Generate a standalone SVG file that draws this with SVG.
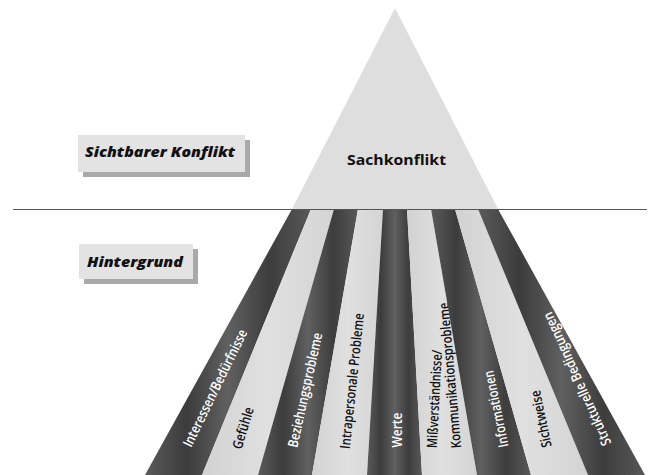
<svg xmlns="http://www.w3.org/2000/svg" width="652" height="475" viewBox="0 0 652 475">
<defs>
<style>
.lbl{font-family:"Open Sans","Noto Sans","Liberation Sans",sans-serif;font-size:14px;font-weight:600;text-anchor:middle}
.w{fill:#ffffff}
.b{fill:#111111}
.box{fill:#e3e3e3}
.shadow{fill:#a9a9a9}
.side{font-family:"Open Sans","Noto Sans","Liberation Sans",sans-serif;font-size:14px;font-weight:800;font-style:italic;fill:#111111}
.dark{fill:url(#dk)}
.light{fill:url(#lt)}
</style>
<linearGradient id="dk" x1="0" y1="0" x2="1" y2="0">
<stop offset="0" stop-color="#5a5a5a"/>
<stop offset="0.25" stop-color="#3c3c3c"/>
<stop offset="0.5" stop-color="#606060"/>
<stop offset="0.75" stop-color="#3d3d3d"/>
<stop offset="1" stop-color="#585858"/>
</linearGradient>
<linearGradient id="lt" x1="0" y1="0" x2="1" y2="0">
<stop offset="0" stop-color="#d2d2d2"/>
<stop offset="0.5" stop-color="#e0e0e0"/>
<stop offset="1" stop-color="#d4d4d4"/>
</linearGradient>
</defs>
<rect width="652" height="475" fill="#ffffff"/>

<g id="sachkonflikt">
<polygon points="395,8 498,209 292,209" fill="#dedede"/>
<text x="396.5" y="165" font-family="'Open Sans','Noto Sans','Liberation Sans',sans-serif" font-size="15" font-weight="700" fill="#111" text-anchor="middle" textLength="99" lengthAdjust="spacingAndGlyphs">Sachkonflikt</text>
</g>

<g id="stripe-interessen">
<polygon class="dark" points="292,209 311,209 202,475 145,475"/>
<text class="lbl w" transform="translate(215,388) rotate(-64)" dy="0.35em" textLength="129" lengthAdjust="spacingAndGlyphs">Interessen/Bedürfnisse</text>
</g>
<g id="stripe-gefuehle">
<polygon class="light" points="311,209 334,209 258,475 202,475"/>
<text class="lbl b" transform="translate(243,428) rotate(-73)" dy="0.35em" textLength="43" lengthAdjust="spacingAndGlyphs">Gefühle</text>
</g>
<g id="stripe-beziehung">
<polygon class="dark" points="334,209 358,209 312,475 258,475"/>
<text class="lbl w" transform="translate(305,390) rotate(-77.5)" dy="0.35em" textLength="117" lengthAdjust="spacingAndGlyphs">Beziehungsprobleme</text>
</g>
<g id="stripe-intrapersonal">
<polygon class="light" points="358,209 383,209 367,475 312,475"/>
<text class="lbl b" transform="translate(352,381) rotate(-84)" dy="0.35em" textLength="136" lengthAdjust="spacingAndGlyphs">Intrapersonale Probleme</text>
</g>
<g id="stripe-werte">
<polygon class="dark" points="383,209 407,209 422,475 367,475"/>
<text class="lbl w" transform="translate(397,430) rotate(-90)" dy="0.35em" textLength="35" lengthAdjust="spacingAndGlyphs">Werte</text>
</g>
<g id="stripe-missverstaendnisse">
<polygon class="light" points="407,209 431,209 477,475 422,475"/>
<text class="lbl b" transform="translate(434.5,399) rotate(-87)" dy="0.35em" textLength="98" lengthAdjust="spacingAndGlyphs">Mißverständnisse/</text>
<text class="lbl b" transform="translate(450,375.5) rotate(-95)" dy="0.35em" textLength="146" lengthAdjust="spacingAndGlyphs">Kommunikationsprobleme</text>
</g>
<g id="stripe-informationen">
<polygon class="dark" points="431,209 455,209 531,475 477,475"/>
<text class="lbl w" transform="translate(496,409) rotate(-101.5)" dy="0.35em" textLength="78" lengthAdjust="spacingAndGlyphs">Informationen</text>
</g>
<g id="stripe-sichtweise">
<polygon class="light" points="455,209 478,209 588,475 531,475"/>
<text class="lbl b" transform="translate(541,419) rotate(-102)" dy="0.35em" textLength="58" lengthAdjust="spacingAndGlyphs">Sichtweise</text>
</g>
<g id="stripe-strukturell">
<polygon class="dark" points="478,209 498,209 645,475 588,475"/>
<text class="lbl w" transform="translate(577,379) rotate(-114.5)" dy="0.35em" textLength="145" lengthAdjust="spacingAndGlyphs">Strukturelle Bedingungen</text>
</g>

<g id="connectors">
<line x1="13" y1="209.5" x2="647" y2="209.5" stroke="#555" stroke-width="1.2"/>
</g>

<g id="label-sichtbar">
<rect class="shadow" x="83" y="140" width="167" height="37"/>
<rect class="box" x="78" y="135" width="167" height="37"/>
<text class="side" x="85" y="157" textLength="150" lengthAdjust="spacingAndGlyphs">Sichtbarer Konflikt</text>
</g>

<g id="label-hintergrund">
<rect class="shadow" x="84" y="249" width="114" height="35"/>
<rect class="box" x="79" y="244" width="114" height="35"/>
<text class="side" x="87" y="267" textLength="96" lengthAdjust="spacingAndGlyphs">Hintergrund</text>
</g>
</svg>
